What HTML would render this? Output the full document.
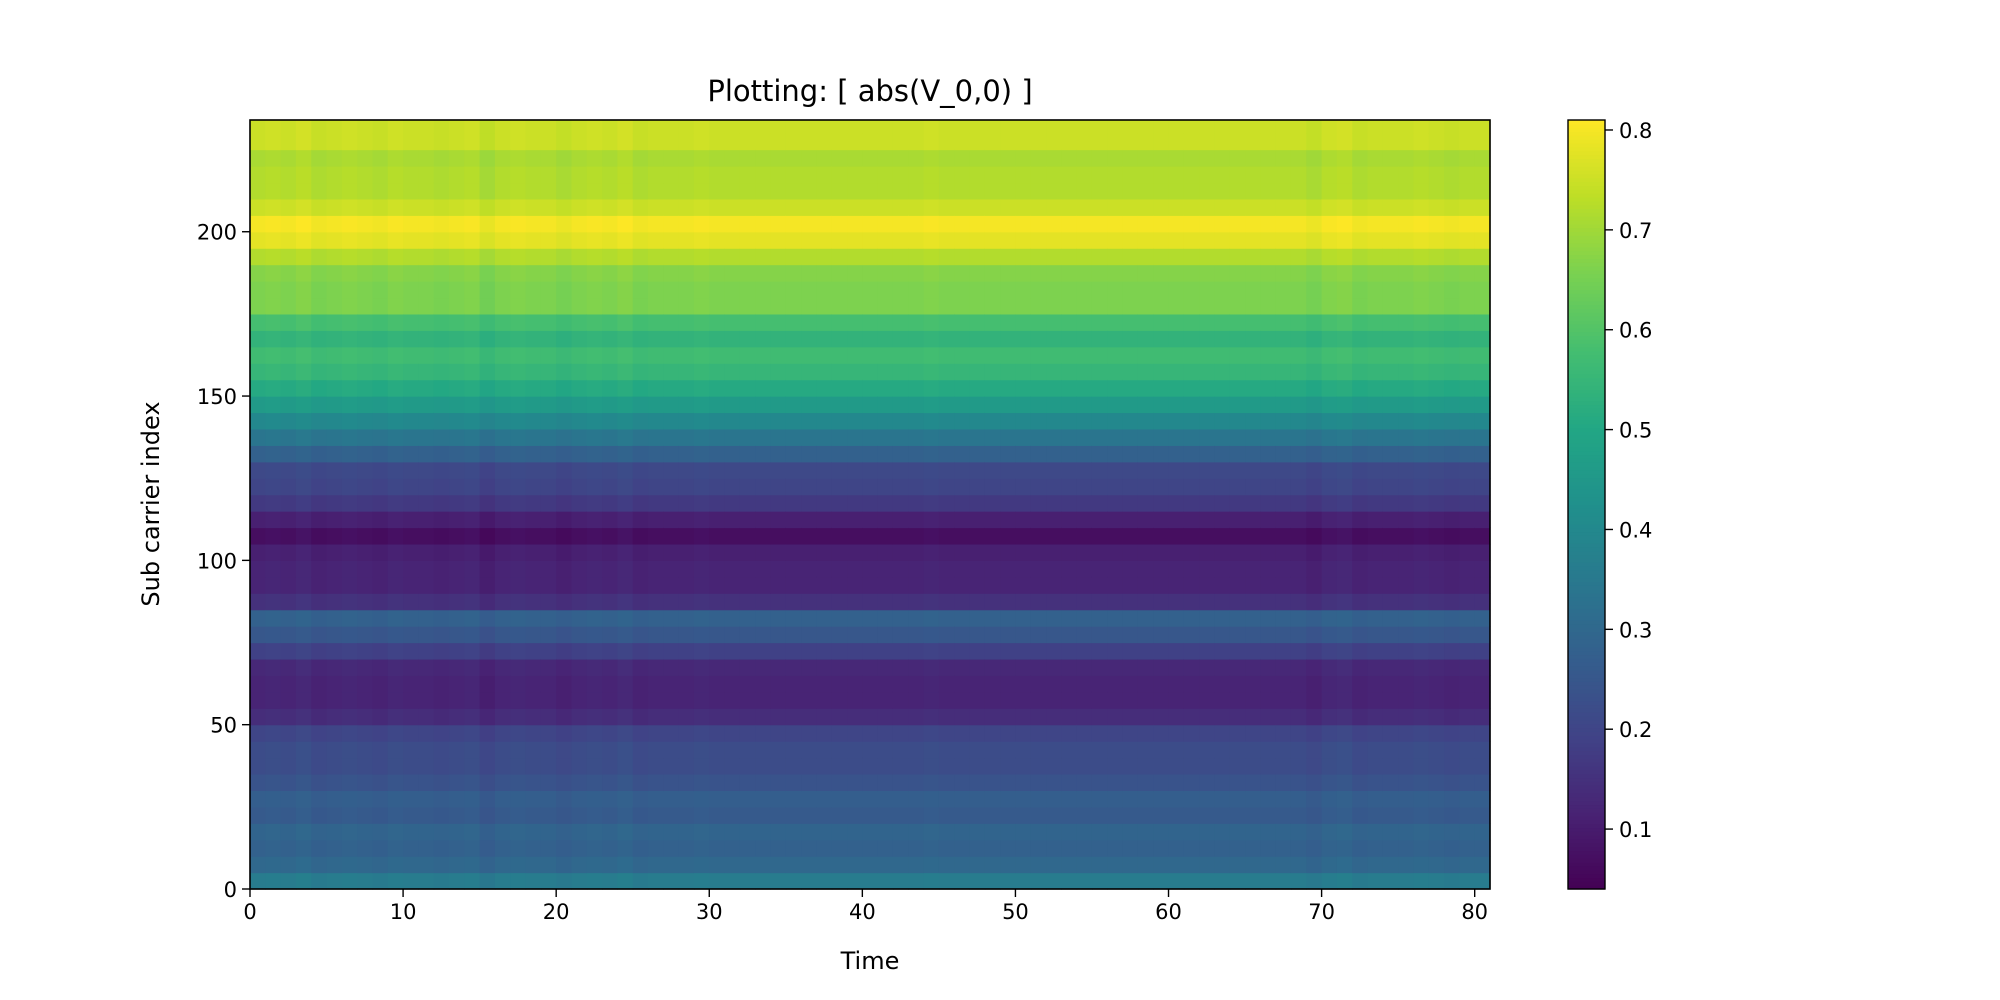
<!DOCTYPE html>
<html><head><meta charset="utf-8"><style>
html,body{margin:0;padding:0;background:#fff;}
svg{display:block;font-family:"DejaVu Sans","Liberation Sans",sans-serif;}
</style></head><body>
<svg id="chart" width="2000" height="1000" viewBox="0 0 2000 1000" xmlns="http://www.w3.org/2000/svg">
<rect width="2000" height="1000" fill="#fff"/>
<text x="870" y="101" font-size="29" text-anchor="middle" fill="#000">Plotting: [ abs(V_0,0) ]</text>
<g id="cells"></g>
<rect x="250" y="120" width="1240" height="769" fill="none" stroke="#000" stroke-width="1.6"/>
<g id="xticks"></g>
<g id="yticks"></g>
<text x="870" y="969" font-size="24" text-anchor="middle">Time</text>
<text transform="translate(159,504) rotate(-90)" font-size="24" text-anchor="middle">Sub carrier index</text>
<g id="cbar"></g>
</svg>
<script>
const bandStarts = [0,5,10,15,20,25,30,35,40,45,50,55,60,65,70,75,80,85,90,95,100,105,110,115,120,125,130,135,140,145,150,155,160,165,170,175,180,185,190,195,200,205,210,215,220,225,230];
const bandValues = [0.36,0.30,0.28,0.29,0.26,0.27,0.24,0.22,0.22,0.20,0.14,0.12,0.12,0.13,0.19,0.25,0.28,0.15,0.12,0.12,0.11,0.07,0.11,0.17,0.20,0.21,0.28,0.34,0.40,0.46,0.51,0.55,0.57,0.54,0.58,0.66,0.66,0.67,0.72,0.78,0.80,0.75,0.72,0.72,0.71,0.75,0.75];
const colOffsets = [0,0.005,0,0.01,-0.005,0,0.005,0,-0.005,0.005,0,0,-0.005,0,0.005,-0.015,0,0.005,0,0,-0.01,0,0.005,0,0.01,-0.005,0,0,0,0.005,0,0,0,0,0,0,0,0,0,0,0,0,0,0,0.005,0,0,0,0,0,0,0,0,0,0,0,0,0,0,0,0,0,0,0,0,0,0,0,0,-0.01,0.005,0.01,-0.005,0,0,0,0.005,0,-0.005,0,0];
const xTicks = [0,10,20,30,40,50,60,70,80];
const yTicks = [0,50,100,150,200];
const cbTicks = [0.1,0.2,0.3,0.4,0.5,0.6,0.7,0.8];
const nRows = 234, nCols = 81, vmin = 0.04, vmax = 0.81;

const X0=250,X1=1490,Y0=889,Y1=120;
const xs = v => X0 + v/nCols*(X1-X0);
const ys = v => Y0 - v/nRows*(Y0-Y1);
const VIR=[[68,1,84],[72,35,116],[64,67,135],[52,94,141],[41,120,142],[32,144,140],[34,167,132],[68,190,112],[121,209,81],[189,222,38],[253,231,37]];
function vir(t){t=Math.max(0,Math.min(1,t));const p=t*10,i=Math.min(9,Math.floor(p)),f=p-i;const a=VIR[i],b=VIR[i+1];
return 'rgb('+a.map((c,k)=>Math.round(c+(b[k]-c)*f)).join(',')+')';}
const NS='http://www.w3.org/2000/svg';
function mk(tag,attrs,parent){const e=document.createElementNS(NS,tag);for(const k in attrs)e.setAttribute(k,attrs[k]);parent.appendChild(e);return e;}
const cells=document.getElementById('cells');
for(let c=0;c<nCols;c++){
  for(let b=0;b<bandStarts.length;b++){
    const s=bandStarts[b], e=b+1<bandStarts.length?bandStarts[b+1]:nRows;
    const v=bandValues[b]+colOffsets[c];
    const r=mk('rect',{x:xs(c),y:ys(e),width:xs(c+1)-xs(c)+0.6,height:ys(s)-ys(e)+0.6,fill:vir((v-vmin)/(vmax-vmin))},cells);
    
    
  }
}
const xg=document.getElementById('xticks');
xTicks.forEach(t=>{
  const l=mk('line',{x1:xs(t),x2:xs(t),y1:Y0,y2:Y0+8,stroke:'#000','stroke-width':1.4},xg);
  
  
  const tx=mk('text',{x:xs(t),y:Y0+30,'font-size':21,'text-anchor':'middle'},xg);tx.textContent=t;
  
  
});
const yg=document.getElementById('yticks');
yTicks.forEach(t=>{
  const l=mk('line',{x1:X0-8,x2:X0,y1:ys(t),y2:ys(t),stroke:'#000','stroke-width':1.4},yg);
  
  
  const tx=mk('text',{x:X0-13,y:ys(t)+8,'font-size':21,'text-anchor':'end'},yg);tx.textContent=t;
  
  
});
const cb=document.getElementById('cbar');
const CX0=1568,CX1=1605;
const cy=v=>Y0-(v-vmin)/(vmax-vmin)*(Y0-Y1);
for(let i=0;i<200;i++){
  const v0=vmin+(vmax-vmin)*i/200,v1=vmin+(vmax-vmin)*(i+1)/200;
  const r=mk('rect',{x:CX0,y:cy(v1),width:CX1-CX0,height:cy(v0)-cy(v1)+0.6,fill:vir(((v0+v1)/2-vmin)/(vmax-vmin))},cb);
  
  
}
const cf=mk('rect',{x:CX0,y:Y1,width:CX1-CX0,height:Y0-Y1,fill:'none',stroke:'#000','stroke-width':1.4},cb);


cbTicks.forEach(t=>{
  const l=mk('line',{x1:CX1,x2:CX1+8,y1:cy(t),y2:cy(t),stroke:'#000','stroke-width':1.4},cb);
  
  
  const tx=mk('text',{x:CX1+14,y:cy(t)+8,'font-size':21},cb);tx.textContent=t.toFixed(1);
  
  
});
</script>
</body></html>
